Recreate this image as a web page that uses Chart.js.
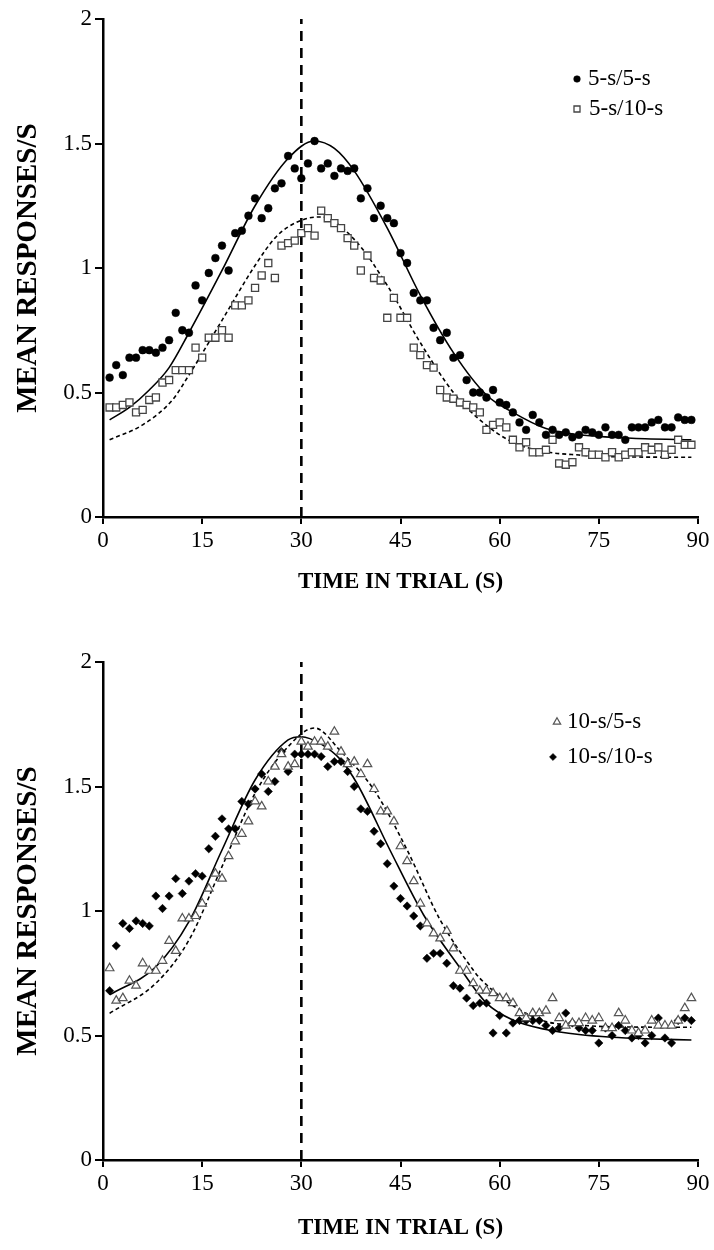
<!DOCTYPE html>
<html>
<head>
<meta charset="utf-8">
<script src="https://cdn.jsdelivr.net/npm/chart.js@4.4.1/dist/chart.umd.min.js"></script>
<style>
  html, body { margin: 0; padding: 0; background: #fff; }
  .panel { position: absolute; left: 0; width: 714px; height: 625px; }
  #top { top: 0; }
  #bottom { top: 625px; }
</style>
</head>
<body>
<div class="panel" id="top"><canvas id="chartTop"></canvas></div>
<div class="panel" id="bottom"><canvas id="chartBottom"></canvas></div>
<script>
// time in trial (s) of each plotted bin
const seconds = [1,2,3,4,5,6,7,8,9,10,11,12,13,14,15,16,17,18,19,20,21,22,23,24,25,26,27,28,29,30,
  31,32,33,34,35,36,37,38,39,40,41,42,43,44,45,46,47,48,49,50,51,52,53,54,55,56,57,58,59,60,
  61,62,63,64,65,66,67,68,69,70,71,72,73,74,75,76,77,78,79,80,81,82,83,84,85,86,87,88,89];

// top panel
const s5s5 = [0.56,0.61,0.57,0.64,0.64,0.67,0.67,0.66,0.68,0.71,0.82,0.75,0.74,0.93,0.87,0.98,1.04,1.09,0.99,1.14,
  1.15,1.21,1.28,1.20,1.24,1.32,1.34,1.45,1.40,1.36,1.42,1.51,1.40,1.42,1.37,1.40,1.39,1.40,1.28,1.32,
  1.20,1.25,1.20,1.18,1.06,1.02,0.90,0.87,0.87,0.76,0.71,0.74,0.64,0.65,0.55,0.50,0.50,0.48,0.51,0.46,
  0.45,0.42,0.38,0.35,0.41,0.38,0.33,0.35,0.33,0.34,0.32,0.33,0.35,0.34,0.33,0.36,0.33,0.33,0.31,0.36,
  0.36,0.36,0.38,0.39,0.36,0.36,0.40,0.39,0.39];
const s5s10 = [0.44,0.44,0.45,0.46,0.42,0.43,0.47,0.48,0.54,0.55,0.59,0.59,0.59,0.68,0.64,0.72,0.72,0.75,0.72,0.85,
  0.85,0.87,0.92,0.97,1.02,0.96,1.09,1.10,1.11,1.14,1.16,1.13,1.23,1.20,1.18,1.16,1.12,1.09,0.99,1.05,
  0.96,0.95,0.80,0.88,0.80,0.80,0.68,0.65,0.61,0.60,0.51,0.48,0.475,0.46,0.45,0.44,0.42,0.35,0.37,0.38,
  0.36,0.31,0.28,0.30,0.26,0.26,0.27,0.31,0.215,0.21,0.22,0.28,0.26,0.25,0.25,0.24,0.26,0.24,0.25,0.26,
  0.26,0.28,0.27,0.28,0.25,0.27,0.31,0.29,0.29];
const fit5s5X = [1,4,7,10,13,18,23,28,32,35,38,43,48,53,58,62,67,72,77,82,89];
const fit5s5Y = [0.39,0.44,0.51,0.60,0.74,0.99,1.25,1.44,1.51,1.48,1.39,1.16,0.89,0.66,0.49,0.42,0.355,0.33,0.32,0.314,0.31];
const fit5s10X = [1,6,10.5,13,18,23,26,28,31,33,38,43,48,53,57,62,67,72,77,89];
const fit5s10Y = [0.31,0.37,0.47,0.57,0.79,1.01,1.12,1.165,1.20,1.205,1.115,0.93,0.70,0.50,0.39,0.30,0.262,0.249,0.242,0.24];

// bottom panel
const s10s5 = [0.77,0.64,0.65,0.72,0.70,0.79,0.76,0.76,0.80,0.88,0.84,0.97,0.97,0.98,1.03,1.09,1.15,1.13,1.22,1.28,
  1.31,1.36,1.44,1.42,1.52,1.58,1.63,1.58,1.59,1.68,1.66,1.68,1.68,1.66,1.72,1.64,1.59,1.60,1.55,1.59,
  1.49,1.40,1.40,1.36,1.26,1.20,1.12,1.03,0.95,0.91,0.89,0.92,0.85,0.76,0.76,0.71,0.68,0.68,0.67,0.65,
  0.65,0.63,0.59,0.57,0.59,0.59,0.60,0.65,0.57,0.54,0.55,0.55,0.57,0.56,0.57,0.53,0.53,0.59,0.56,0.52,
  0.51,0.52,0.56,0.54,0.54,0.54,0.56,0.61,0.65];
const s10s10 = [0.68,0.86,0.95,0.93,0.96,0.95,0.94,1.06,1.01,1.06,1.13,1.07,1.12,1.15,1.14,1.25,1.30,1.37,1.33,1.33,
  1.44,1.43,1.49,1.55,1.48,1.52,1.64,1.56,1.63,1.63,1.63,1.63,1.62,1.58,1.60,1.60,1.56,1.50,1.41,1.40,
  1.32,1.27,1.19,1.10,1.05,1.02,0.98,0.94,0.81,0.83,0.83,0.79,0.70,0.69,0.65,0.62,0.63,0.63,0.51,0.58,
  0.51,0.55,0.56,0.56,0.56,0.56,0.54,0.52,0.53,0.59,0.55,0.53,0.52,0.52,0.47,0.53,0.50,0.54,0.52,0.49,
  0.50,0.47,0.50,0.57,0.49,0.47,0.56,0.57,0.56];
const fit10s10X = [1,8,13,18,23,28,30,33,36,38.4,43.4,48.5,53.5,58,62,67,72,77,82,89];
const fit10s10Y = [0.663,0.776,0.957,1.245,1.526,1.687,1.70,1.67,1.606,1.513,1.245,0.984,0.79,0.63,0.562,0.524,0.504,0.493,0.487,0.482];
const fit10s5X = [1,8,13,18,23,28,32,36,41,46,51,56,57,62,67,72,77,89];
const fit10s5Y = [0.589,0.71,0.883,1.178,1.473,1.66,1.735,1.64,1.486,1.245,0.964,0.763,0.73,0.62,0.556,0.542,0.535,0.533];

const xTicks = [0, 15, 30, 45, 60, 75, 90];
const yTicks = [0, 0.5, 1, 1.5, 2];
const criterion = 30;

const serif = "'Liberation Serif', 'Times New Roman', serif";

function pts(xs, ys) {
  return xs.map((x, i) => ({x: x, y: ys[i]}));
}

const markers = {
  circle:   {pointStyle: 'circle',   pointRadius: 3.9, pointBackgroundColor: '#000', pointBorderColor: '#000', pointBorderWidth: 0.5},
  square:   {pointStyle: 'rect',     pointRadius: 5,   pointBackgroundColor: '#fff', pointBorderColor: '#444', pointBorderWidth: 1.3},
  triangle: {pointStyle: 'triangle', pointRadius: 5,   pointBackgroundColor: '#fff', pointBorderColor: '#555', pointBorderWidth: 1.2},
  diamond:  {pointStyle: 'rectRot',  pointRadius: 4.2, pointBackgroundColor: '#000', pointBorderColor: '#000', pointBorderWidth: 0.5}
};

function scatterSet(label, ys, m) {
  return Object.assign({label: label, data: pts(seconds, ys), showLine: false}, markers[m]);
}
function fitSet(xs, ys, dashed) {
  return {label: '', data: pts(xs, ys), showLine: true, borderColor: '#000', borderWidth: 1.6,
    borderDash: dashed ? [4, 3] : [], pointRadius: 0, cubicInterpolationMode: 'monotone'};
}
function criterionSet() {
  return {label: '', data: [{x: criterion, y: 0}, {x: criterion, y: 2}], showLine: true, borderColor: '#000',
    borderWidth: 2.6, borderDash: [10, 7], pointRadius: 0};
}

// small legend inside the plot, placed like the original figure
const legendPlugin = {
  id: 'figLegend',
  afterDraw(chart, args, opts) {
    const ctx = chart.ctx;
    opts.items.forEach(it => {
      const ds = chart.data.datasets[it.index];
      ctx.save();
      ctx.fillStyle = ds.pointBackgroundColor;
      ctx.strokeStyle = ds.pointBorderColor;
      ctx.lineWidth = ds.pointBorderWidth;
      Chart.helpers.drawPoint(ctx, {
        pointStyle: ds.pointStyle, radius: ds.pointRadius * it.scale, borderWidth: ds.pointBorderWidth, rotation: 0
      }, it.mx, it.y);
      ctx.font = '23px ' + serif;
      ctx.fillStyle = '#000';
      ctx.textBaseline = 'middle';
      ctx.fillText(ds.label, it.tx, it.y);
      ctx.restore();
    });
  }
};

function makeChart(id, datasets, topPad, xAxisH, xTitlePad, legendItems) {
  const ctx = document.getElementById(id).getContext('2d');
  return new Chart(ctx, {
    type: 'scatter',
    data: {datasets: datasets},
    plugins: [legendPlugin],
    options: {
      responsive: true,
      maintainAspectRatio: false,
      animation: false,
      layout: {padding: {top: topPad, right: 16, left: 0, bottom: 0}},
      plugins: {
        legend: {display: false},
        tooltip: {enabled: false},
        figLegend: {items: legendItems}
      },
      scales: {
        x: {
          type: 'linear', min: 0, max: 90,
          afterBuildTicks: s => { s.ticks = xTicks.map(v => ({value: v})); },
          afterFit: s => { s.height = xAxisH; },
          ticks: {color: '#000', font: {family: serif, size: 23}, padding: 3, maxRotation: 0},
          grid: {drawOnChartArea: false, drawTicks: true, tickLength: 7, color: '#000', lineWidth: 2},
          border: {display: true, color: '#000', width: 2.5},
          title: {display: true, text: 'TIME IN TRIAL (S)', color: '#000',
            font: {family: serif, size: 23, weight: 'bold'}, padding: {top: 0, bottom: xTitlePad}}
        },
        y: {
          type: 'linear', min: 0, max: 2,
          afterBuildTicks: s => { s.ticks = yTicks.map(v => ({value: v})); },
          afterFit: s => { s.width = 103; },
          ticks: {color: '#000', font: {family: serif, size: 23}, padding: 3, callback: v => String(v)},
          grid: {drawOnChartArea: false, drawTicks: true, tickLength: 8, color: '#000', lineWidth: 2},
          border: {display: true, color: '#000', width: 2.5},
          title: {display: true, text: 'MEAN RESPONSES/S', color: '#000',
            font: {family: serif, size: 29, weight: 'bold'}, padding: {top: 11, bottom: 0}}
        }
      }
    }
  });
}

makeChart('chartTop', [
  scatterSet('5-s/5-s', s5s5, 'circle'),
  scatterSet('5-s/10-s', s5s10, 'square'),
  fitSet(fit5s5X, fit5s5Y, false),
  fitSet(fit5s10X, fit5s10Y, true),
  criterionSet()
], 19, 108, 29, [
  {index: 0, mx: 577, tx: 588, y: 79, scale: 0.85},
  {index: 1, mx: 577, tx: 589, y: 109, scale: 0.85}
]);

makeChart('chartBottom', [
  scatterSet('10-s/5-s', s10s5, 'triangle'),
  scatterSet('10-s/10-s', s10s10, 'diamond'),
  fitSet(fit10s10X, fit10s10Y, false),
  fitSet(fit10s5X, fit10s5Y, true),
  criterionSet()
], 37, 90, 8, [
  {index: 0, mx: 557, tx: 567, y: 97, scale: 0.85},
  {index: 1, mx: 553, tx: 567, y: 132, scale: 0.85}
]);
</script>
</body>
</html>
